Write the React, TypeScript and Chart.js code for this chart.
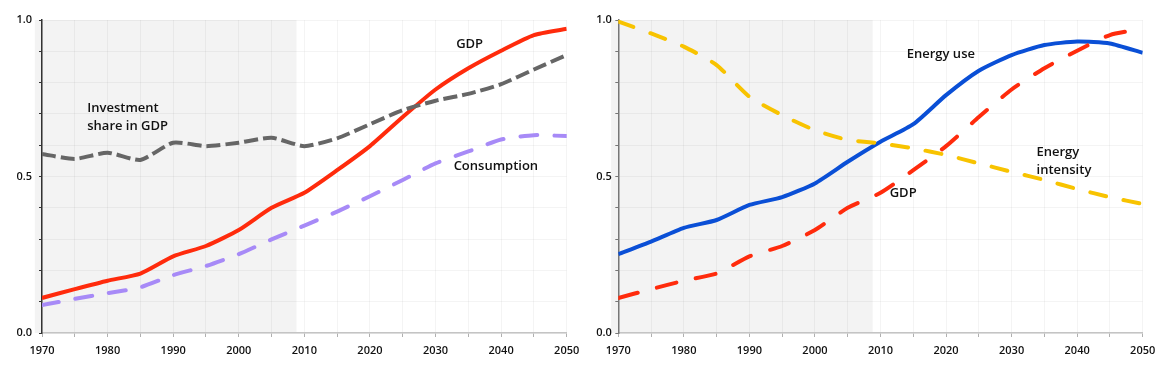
import React, { useEffect, useRef } from 'react';
import { Chart, registerables } from 'chart.js';

Chart.register(...registerables);

// ---------- data ----------
const years = [1970, 1975, 1980, 1985, 1990, 1995, 2000, 2005, 2010, 2015, 2020, 2025, 2030, 2035, 2040, 2045, 2050];
const gdp = [0.112, 0.14, 0.167, 0.19, 0.245, 0.278, 0.329, 0.4, 0.448, 0.52, 0.597, 0.69, 0.778, 0.846, 0.902, 0.952, 0.972];
const investmentShare = [0.572, 0.556, 0.576, 0.553, 0.608, 0.597, 0.608, 0.624, 0.597, 0.622, 0.667, 0.712, 0.742, 0.764, 0.795, 0.842, 0.888];
const consumption = [0.089, 0.109, 0.127, 0.146, 0.185, 0.214, 0.252, 0.299, 0.343, 0.388, 0.437, 0.489, 0.542, 0.58, 0.618, 0.632, 0.629];
const energyUse = [0.252, 0.292, 0.336, 0.361, 0.409, 0.434, 0.478, 0.547, 0.611, 0.667, 0.76, 0.838, 0.888, 0.92, 0.931, 0.925, 0.895];
const energyIntensity = [0.995, 0.957, 0.915, 0.856, 0.755, 0.696, 0.648, 0.617, 0.606, 0.59, 0.569, 0.542, 0.515, 0.489, 0.46, 0.434, 0.412];
const xTickLabels = ['1970', '1980', '1990', '2000', '2010', '2020', '2030', '2040', '2050'];
const yTickLabels = ['0.0', '0.5', '1.0'];
const historyEnd = 2008.8;

// annotation texts, anchored in data coordinates
const leftNotes = [
  { lines: ['GDP'], year: 2035.2, value: 0.923, align: 'center' },
  { lines: ['Consumption'], year: 2039.2, value: 0.534, align: 'center' },
  { lines: ['Investment', 'share in GDP'], year: 1976.9, value: 0.719, align: 'left' },
];
const rightNotes = [
  { lines: ['Energy use'], year: 2014.0, value: 0.89, align: 'left' },
  { lines: ['Energy', 'intensity'], year: 2033.8, value: 0.577, align: 'left' },
  { lines: ['GDP'], year: 2011.4, value: 0.447, align: 'left' },
];

const FONT = "'Open Sans', 'DejaVu Sans', sans-serif";

const pts = (vals: number[]) => vals.map((v, i) => ({ x: years[i], y: v }));

const shadePlugin = {
  id: 'shade',
  beforeDraw(chart: any) {
    const { ctx, scales } = chart;
    const x = scales.x, y = scales.y;
    const l = x.getPixelForValue(1968.9);
    const r = x.getPixelForValue(historyEnd);
    const t = y.getPixelForValue(1.0);
    const b = y.getPixelForValue(0);
    ctx.save();
    ctx.fillStyle = '#f3f3f3';
    ctx.fillRect(l, t, r - l, b - t);
    ctx.restore();
  },
};

const notesPlugin = {
  id: 'notes',
  afterDatasetsDraw(chart: any, _args: any, opts: any) {
    const { ctx, scales } = chart;
    const notes = opts.notes || [];
    ctx.save();
    ctx.font = `600 13px ${FONT}`;
    ctx.fillStyle = '#111';
    ctx.textBaseline = 'middle';
    for (const n of notes) {
      const px = scales.x.getPixelForValue(n.year);
      const py = scales.y.getPixelForValue(n.value);
      ctx.textAlign = n.align;
      n.lines.forEach((line: string, i: number) => ctx.fillText(line, px, py + i * 18));
    }
    ctx.restore();
  },
};

function Panel(props: any) {
  const ref = useRef<HTMLCanvasElement | null>(null);
  useEffect(() => {
    if (!ref.current) return;
    const chart = new Chart(ref.current, {
      type: 'line',
      data: { datasets: props.datasets },
      plugins: [shadePlugin, notesPlugin],
      options: {
        animation: false,
        responsive: false,
        maintainAspectRatio: false,
        layout: { padding: { top: 20, right: props.padRight, bottom: 0, left: 0 } },
        elements: { point: { radius: 0 }, line: { tension: 0.2 } },
        plugins: {
          legend: { display: false },
          tooltip: { enabled: false },
          notes: { notes: props.notes },
        } as any,
        scales: {
          x: {
            type: 'linear',
            min: 1970,
            max: 2050,
            ticks: {
              stepSize: 5,
              autoSkip: false,
              maxRotation: 0,
              padding: 7,
              color: '#111',
              font: { family: FONT, size: 11, weight: '600' },
              callback: (v: any) => (xTickLabels.includes(String(v)) ? String(v) : ''),
            },
            grid: { color: 'rgba(0,0,0,0.045)', tickColor: '#b0b0b0', tickLength: 4 },
            border: { color: '#c4c4c4', width: 1.5 },
            afterFit: (s: any) => { s.height = 40; },
          },
          y: {
            min: 0,
            max: 1,
            ticks: {
              stepSize: 0.1,
              autoSkip: false,
              padding: props.yPad,
              color: '#111',
              font: { family: FONT, size: 11, weight: '600' },
              callback: (v: any) => {
                const s = Number(v).toFixed(1);
                return yTickLabels.includes(s) ? s : '';
              },
            },
            grid: { color: 'rgba(0,0,0,0.045)', tickColor: props.yBorder, tickLength: 3 },
            border: { color: props.yBorder, width: 1.5 },
            afterFit: (s: any) => { s.width = props.yWidth; },
          },
        },
      } as any,
    });
    return () => chart.destroy();
  }, []);
  return (
    <canvas
      ref={ref}
      width={props.width}
      height={373}
      style={{ position: 'absolute', top: 0, left: props.left, width: props.width, height: 373, display: 'block' }}
    />
  );
}

export default function App() {
  const leftSets = [
    { data: pts(investmentShare), borderColor: '#666666', borderWidth: 4, borderDash: [14, 5], fill: false },
    { data: pts(consumption), borderColor: '#a78af7', borderWidth: 4, borderDash: [17, 17], borderCapStyle: 'round', fill: false },
    { data: pts(gdp), borderColor: '#ff2b0c', borderWidth: 4, fill: false },
  ];
  const rightSets = [
    { data: pts(energyIntensity), borderColor: '#f8c300', borderWidth: 4, borderDash: [16, 18], borderCapStyle: 'round', fill: false },
    { data: pts(gdp), borderColor: '#ff2b0c', borderWidth: 4, borderDash: [20, 20], borderCapStyle: 'round', fill: false },
    { data: pts(energyUse), borderColor: '#0a4fd6', borderWidth: 4, fill: false },
  ];
  return (
    <div style={{ position: 'absolute', top: 0, left: 0, width: 1166, height: 373, background: '#fff' }}>
      <Panel left={0} width={590} datasets={leftSets} notes={leftNotes} yBorder="#333333" yWidth={42} yPad={7} padRight={23.3} />
      <Panel left={583} width={583} datasets={rightSets} notes={rightNotes} yBorder="#777777" yWidth={35.3} yPad={3.5} padRight={23.3} />
    </div>
  );
}
